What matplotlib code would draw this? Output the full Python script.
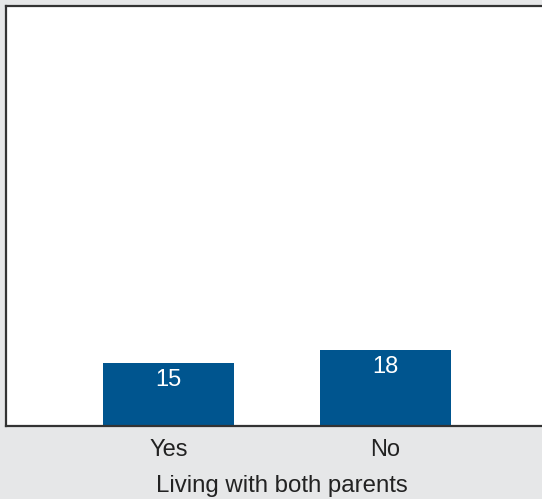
import matplotlib
matplotlib.use("Agg")
import matplotlib.pyplot as plt

categories = ["Yes", "No"]
values = [15, 18]
xlabel = "Living with both parents"

plt.rcParams['font.family'] = ['Liberation Sans', 'DejaVu Sans']

fig = plt.figure(figsize=(5.42, 4.99), dpi=100)
fig.patch.set_facecolor('#e6e7e8')
ax = fig.add_axes([6/542, 73/499, 1 - 6/542, 420/499])
ax.set_facecolor('white')

x = list(range(len(categories)))
bars = ax.bar(x, values, width=0.6, color='#00558f', zorder=2)
for xi, v in zip(x, values):
    ax.annotate(str(v), (xi, v), xytext=(0, -12), textcoords='offset points',
                ha='center', va='center', color='white', fontsize=17)

ax.set_xlim(-0.749, 1.721)
ax.set_ylim(0, 100)
ax.set_yticks([])
ax.set_xticks(x)
ax.set_xticklabels(categories, fontsize=17, color='#222222')
ax.tick_params(axis='x', length=0, pad=9.5)
ax.set_xlabel(xlabel, fontsize=17.3, color='#222222', labelpad=10)
ax.xaxis.label.set_x(0.515)
for s in ['left', 'top', 'bottom']:
    ax.spines[s].set_color('#333333')
    ax.spines[s].set_linewidth(1.6)
ax.spines['right'].set_visible(False)

fig.savefig('out.png', dpi=100, facecolor=fig.get_facecolor())
